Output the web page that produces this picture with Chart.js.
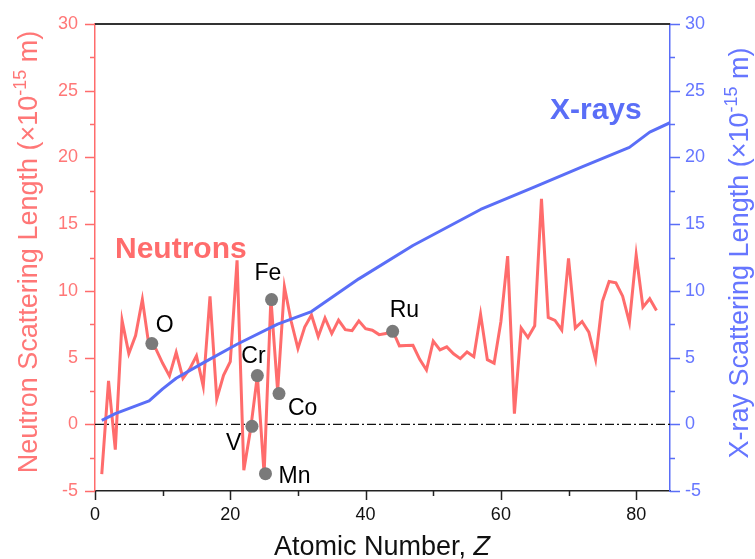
<!DOCTYPE html>
<html>
<head>
<meta charset="utf-8">
<title>Neutron and X-ray scattering lengths</title>
<script src="https://cdn.jsdelivr.net/npm/chart.js@4.4.1/dist/chart.umd.min.js"></script>
<style>
  html, body { margin: 0; padding: 0; background: #fff; }
  canvas { display: block; }
</style>
</head>
<body>
<canvas id="lengthChart" width="755" height="559"></canvas>
<script>
// Atomic number Z = 1 (H) .. 83 (Bi)
const atomicNumbers = [
    1, 2, 3, 4, 5, 6, 7, 8, 9, 10, 11, 12, 13, 14, 15, 16, 17, 18, 19, 20,
    21, 22, 23, 24, 25, 26, 27, 28, 29, 30, 31, 32, 33, 34, 35, 36, 37, 38, 39, 40,
    41, 42, 43, 44, 45, 46, 47, 48, 49, 50, 51, 52, 53, 54, 55, 56, 57, 58, 59, 60,
    61, 62, 63, 64, 65, 66, 67, 68, 69, 70, 71, 72, 73, 74, 75, 76, 77, 78, 79, 80,
    81, 82, 83
];
const neutronLengths = [
    -3.74, 3.26, -1.90, 7.79, 5.30, 6.65, 9.36, 5.80, 5.65, 4.57,
    3.63, 5.38, 3.45, 4.15, 5.13, 2.85, 9.58, 1.91, 3.67, 4.70,
    12.29, -3.44, -0.38, 3.64, -3.73, 9.45, 2.49, 10.3, 7.72, 5.68,
    7.29, 8.19, 6.58, 7.97, 6.80, 7.81, 7.09, 7.02, 7.75, 7.16,
    7.05, 6.72, 6.80, 7.03, 5.88, 5.91, 5.92, 4.87, 4.07, 6.23,
    5.57, 5.80, 5.28, 4.92, 5.42, 5.07, 8.24, 4.84, 4.58, 7.69,
    12.6, 0.80, 7.22, 6.50, 7.38, 16.9, 8.01, 7.79, 7.07, 12.43,
    7.21, 7.70, 6.91, 4.86, 9.20, 10.7, 10.6, 9.60, 7.63, 12.69,
    8.78, 9.41, 8.53
];

const xrayZ = [1, 3, 8, 10, 12, 16, 21, 27, 32, 39, 47, 57, 65, 72, 79, 82, 85];
const xrayLengths = [0.3, 0.8, 1.75, 2.65, 3.45, 4.6, 6.0, 7.5, 8.45, 10.9, 13.4, 16.1, 17.8, 19.3, 20.75, 21.9, 22.6];

const markedElements = ['O', 'V', 'Cr', 'Mn', 'Fe', 'Co', 'Ru'];
const markedZ = [8.4, 23.2, 24, 25.2, 26.1, 27.2, 44];
const markedLengths = [6.05, -0.15, 3.65, -3.7, 9.35, 2.3, 6.97];

const xTicks = [0, 20, 40, 60, 80];
const xMinorTicks = [10, 30, 50, 70];
const yTicks = [-5, 0, 5, 10, 15, 20, 25, 30];
const yMinorTicks = [-2.5, 2.5, 7.5, 12.5, 17.5, 22.5, 27.5];

const FONT = "'Liberation Sans', Arial, Helvetica, sans-serif";
const RED = '#ff6c6c';
const RED_TEXT = '#ff7777';
const BLUE = '#5a6ef7';
const BLUE_TEXT = '#6676ff';

// pixel offsets of the element names from their dots (left edge, baseline)
const labelOffsets = {
    O: [4, -12], V: [-26, 24], Cr: [-16, -13], Mn: [13, 9],
    Fe: [-17, -20], Co: [9, 21], Ru: [-3, -14]
};

function drawTitle(ctx, parts, x, y, rotated) {
    ctx.save();
    ctx.translate(x, y);
    if (rotated) ctx.rotate(-Math.PI / 2);
    let total = 0;
    parts.forEach(p => { ctx.font = p.font; p.w = ctx.measureText(p.text).width; total += p.w; });
    let cx = -total / 2;
    ctx.textAlign = 'left';
    ctx.textBaseline = 'alphabetic';
    parts.forEach(p => {
        ctx.font = p.font;
        ctx.fillText(p.text, cx, -(p.raise || 0));
        cx += p.w;
    });
    ctx.restore();
}

function drawTickMarks(ctx, scale, values, len, side, color) {
    ctx.save();
    ctx.strokeStyle = color;
    ctx.lineWidth = 1.5;
    ctx.beginPath();
    values.forEach(v => {
        const p = Math.round(scale.getPixelForValue(v)) + 0.5;
        if (side === 'bottom') { ctx.moveTo(p, scale.top); ctx.lineTo(p, scale.top + len); }
        if (side === 'left') { ctx.moveTo(scale.right, p); ctx.lineTo(scale.right - len, p); }
        if (side === 'right') { ctx.moveTo(scale.left, p); ctx.lineTo(scale.left + len, p); }
    });
    ctx.stroke();
    ctx.restore();
}

const decorations = {
    id: 'decorations',
    afterDraw(chart) {
        const ctx = chart.ctx;
        const area = chart.chartArea;
        const s = chart.scales;

        // top frame line
        ctx.save();
        ctx.strokeStyle = '#333';
        ctx.lineWidth = 2;
        ctx.beginPath();
        ctx.moveTo(area.left, area.top);
        ctx.lineTo(area.right, area.top);
        ctx.stroke();
        ctx.restore();

        drawTickMarks(ctx, s.x, xTicks, 9, 'bottom', '#222');
        drawTickMarks(ctx, s.x, xMinorTicks, 5, 'bottom', '#222');
        drawTickMarks(ctx, s.y, yTicks, 10, 'left', RED);
        drawTickMarks(ctx, s.y, yMinorTicks, 5, 'left', RED);
        drawTickMarks(ctx, s.y2, yTicks, 10, 'right', BLUE);
        drawTickMarks(ctx, s.y2, yMinorTicks, 5, 'right', BLUE);

        // axis titles
        const big = '27px ' + FONT;
        const sup = '18px ' + FONT;
        ctx.fillStyle = RED_TEXT;
        drawTitle(ctx, [
            { text: 'Neutron Scattering Length (\u00d710', font: big },
            { text: '-15', font: sup, raise: 11 },
            { text: ' m)', font: big }
        ], 37, 252, true);
        ctx.fillStyle = BLUE_TEXT;
        drawTitle(ctx, [
            { text: 'X-ray Scattering Length (\u00d710', font: big },
            { text: '-15', font: sup, raise: 11 },
            { text: ' m)', font: big }
        ], 748, 253, true);
        ctx.fillStyle = '#111';
        drawTitle(ctx, [
            { text: 'Atomic Number, ', font: big },
            { text: 'Z', font: 'italic ' + big }
        ], 382, 555, false);

        // series names
        ctx.save();
        ctx.font = 'bold 30px ' + FONT;
        ctx.textAlign = 'left';
        ctx.fillStyle = RED;
        ctx.fillText('Neutrons', 115, 258);
        ctx.fillStyle = BLUE;
        ctx.fillText('X-rays', 550, 119);

        // element names next to the grey dots
        ctx.font = '23px ' + FONT;
        ctx.fillStyle = '#000';
        markedElements.forEach((name, i) => {
            const px = s.x.getPixelForValue(markedZ[i]);
            const py = s.y.getPixelForValue(markedLengths[i]);
            const off = labelOffsets[name];
            ctx.fillText(name, px + off[0], py + off[1]);
        });
        ctx.restore();
    }
};

const ctx = document.getElementById('lengthChart').getContext('2d');

new Chart(ctx, {
    type: 'line',
    data: {
        datasets: [
            {
                label: 'Marked elements',
                data: markedZ.map((z, i) => ({ x: z, y: markedLengths[i] })),
                showLine: false,
                pointRadius: 6.5,
                pointBackgroundColor: '#7a7a7a',
                pointBorderWidth: 0,
                yAxisID: 'y'
            },
            {
                label: 'X-rays',
                data: xrayZ.map((z, i) => ({ x: z, y: xrayLengths[i] })),
                borderColor: BLUE,
                borderWidth: 3,
                pointRadius: 0,
                tension: 0,
                borderJoinStyle: 'round',
                yAxisID: 'y2'
            },
            {
                label: 'Neutrons',
                data: atomicNumbers.map((z, i) => ({ x: z, y: neutronLengths[i] })),
                borderColor: RED,
                borderWidth: 3,
                pointRadius: 0,
                tension: 0,
                yAxisID: 'y'
            },
            {
                label: 'zero',
                data: [{ x: 0, y: 0 }, { x: 85, y: 0 }],
                borderColor: '#111',
                borderWidth: 1.3,
                borderDash: [9, 3, 2, 3],
                pointRadius: 0,
                yAxisID: 'y'
            }
        ]
    },
    options: {
        responsive: false,
        animation: false,
        devicePixelRatio: 1,
        layout: { padding: { top: 24, left: 0, right: 0, bottom: 0 } },
        plugins: {
            legend: { display: false },
            tooltip: { enabled: false }
        },
        scales: {
            x: {
                type: 'linear',
                min: 0,
                max: 85,
                afterBuildTicks: scale => { scale.ticks = xTicks.map(v => ({ value: v })); },
                afterFit: scale => { scale.height = 68; },
                grid: { display: false, drawTicks: true, tickLength: 9 },
                border: { color: '#222', width: 1.5 },
                ticks: { color: '#111', padding: 4, maxRotation: 0, font: { family: FONT, size: 18 } }
            },
            y: {
                type: 'linear',
                position: 'left',
                min: -5,
                max: 30,
                afterBuildTicks: scale => { scale.ticks = yTicks.map(v => ({ value: v })); },
                afterFit: scale => { scale.width = 95; },
                grid: { display: false, drawTicks: true, tickLength: 10 },
                border: { color: RED, width: 1.5 },
                ticks: { color: RED_TEXT, padding: 7, font: { family: FONT, size: 18 } }
            },
            y2: {
                type: 'linear',
                position: 'right',
                min: -5,
                max: 30,
                afterBuildTicks: scale => { scale.ticks = yTicks.map(v => ({ value: v })); },
                afterFit: scale => { scale.width = 85; },
                grid: { display: false, drawTicks: true, tickLength: 10 },
                border: { color: BLUE, width: 1.5 },
                ticks: { color: BLUE_TEXT, padding: 5, font: { family: FONT, size: 18 } }
            }
        }
    },
    plugins: [decorations]
});
</script>
</body>
</html>
